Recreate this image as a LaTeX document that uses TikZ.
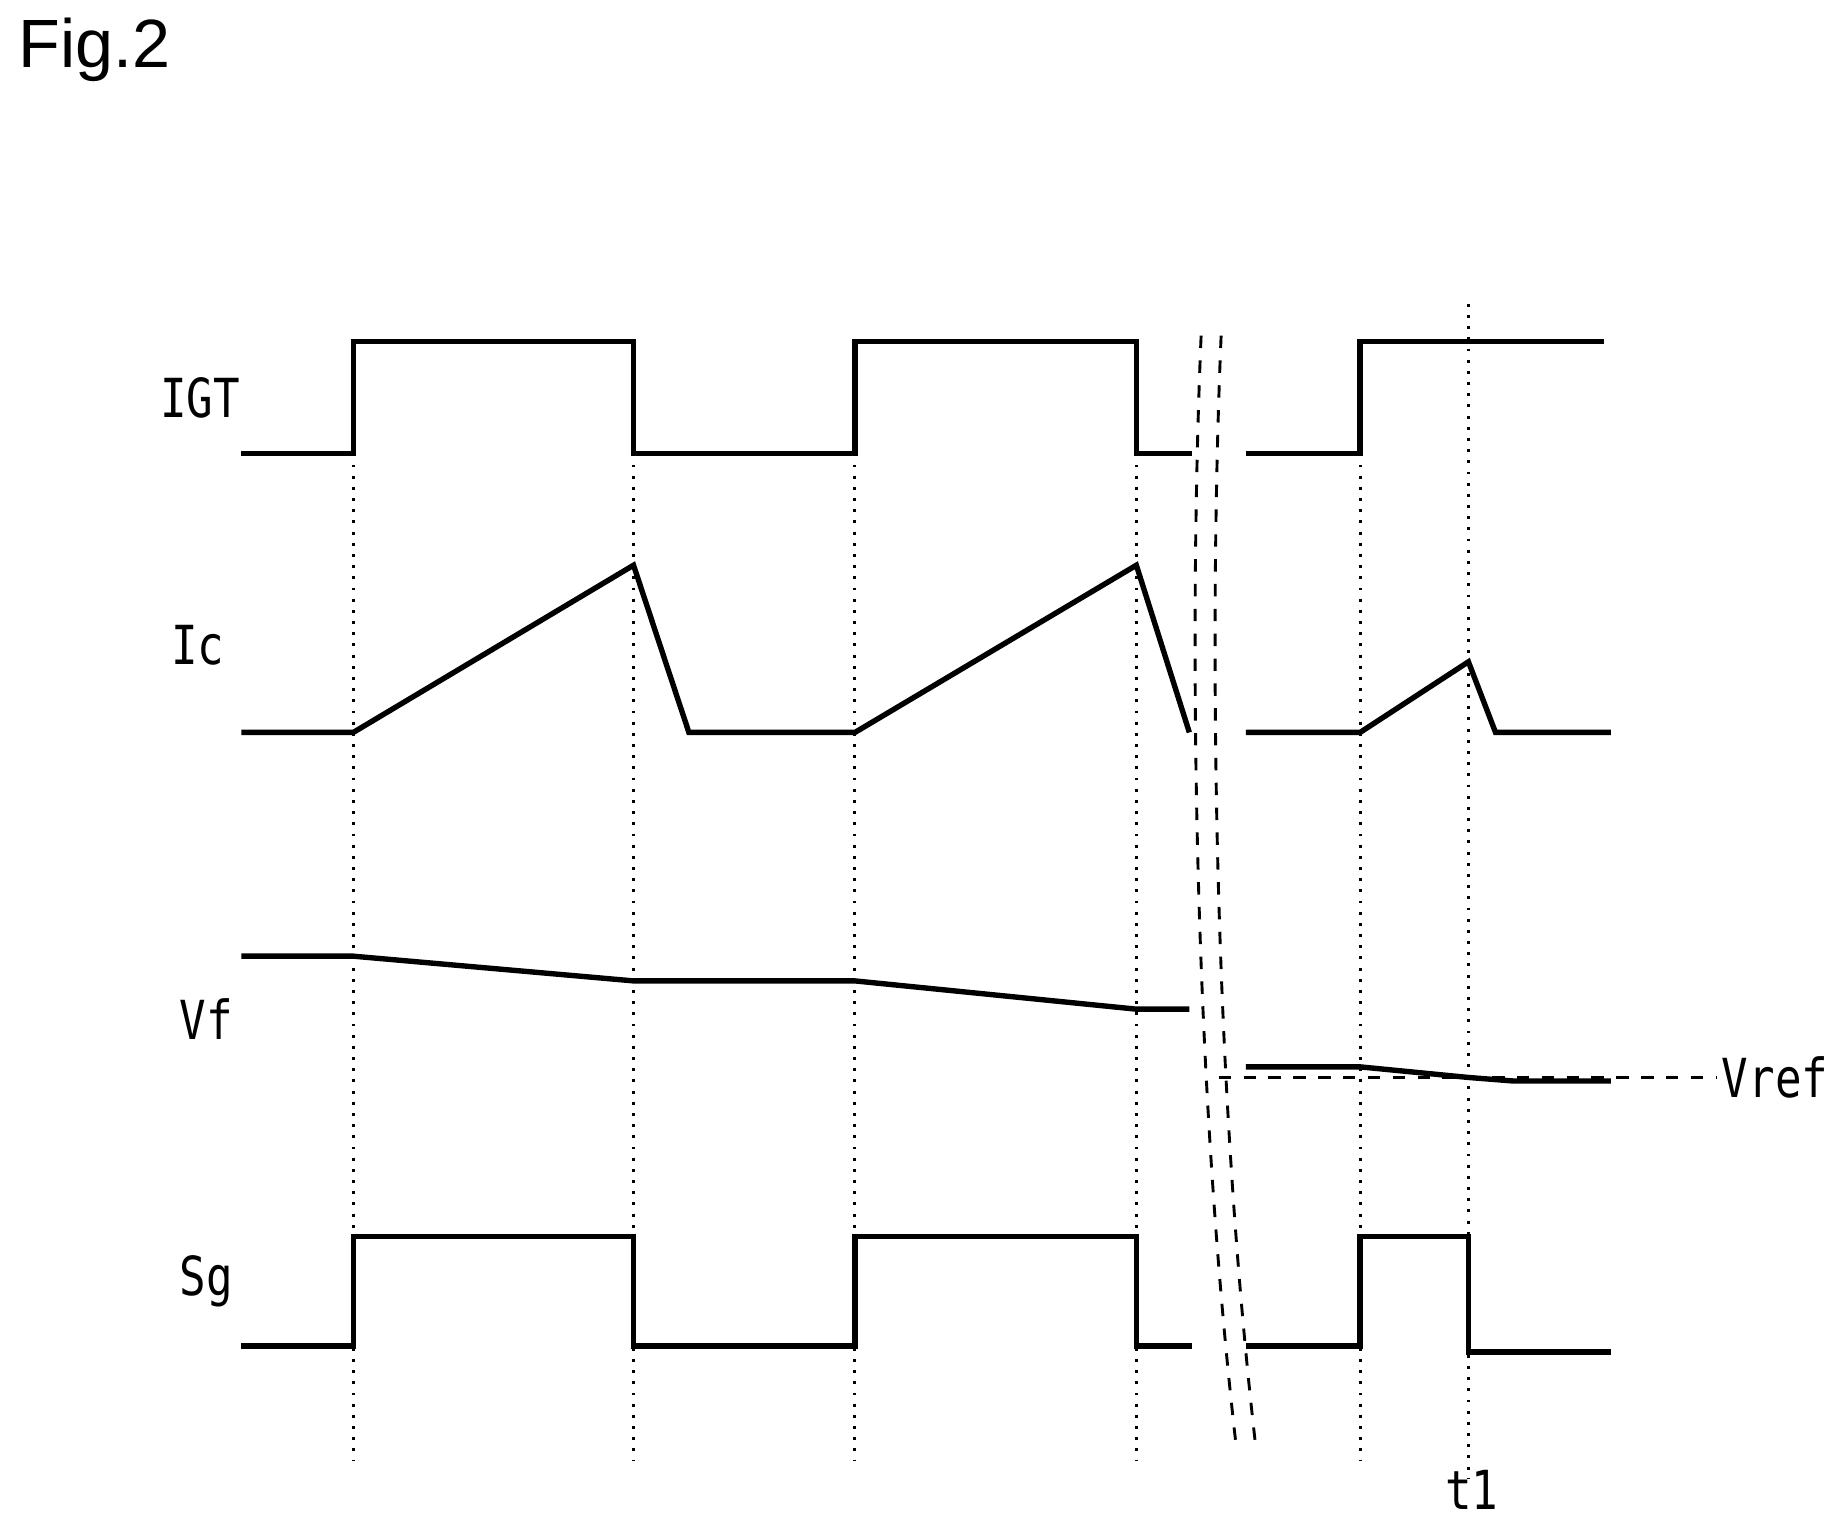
\documentclass[tikz,border=0pt]{standalone}
\usepackage{fontspec}
\setmainfont{Liberation Sans}
\newfontfamily\labelfont[FakeStretch=0.82]{DejaVu Sans Mono}
\begin{document}
\begin{tikzpicture}[x=0.01cm, y=-0.01cm]

\tikzstyle{sig_style} = [black, line width=1.3pt, line join=miter]
\tikzstyle{guide_style} = [black, line width=0.7pt, dotted]
\tikzstyle{break_style} = [black, line width=0.7pt, dashed]
\tikzstyle{label_style} = [font=\labelfont\fontsize{13}{13}\selectfont, inner sep=1pt]

\useasboundingbox (0,0) rectangle (1560,1292);

\node[font=\fontsize{16.5}{16.5}\selectfont] (fig) at (80,42) {Fig.2};

% guide lines
\foreach \x in {300, 538, 726, 965, 1155}
  \draw[guide_style] (\x,385) -- (\x,1240);
\draw[guide_style] (1247,258) -- (1247,1255);

% IGT
\node[label_style] (igt) at (170,338) {IGT};
\draw[sig_style] (205,385) -- (300,385) -- (300,290) -- (538,290) -- (538,385) -- (726,385)
  -- (726,290) -- (965,290) -- (965,385) -- (1012,385);
\draw[sig_style] (1058,385) -- (1155,385) -- (1155,290) -- (1362,290);

% Ic
\node[label_style] (ic) at (168,548) {Ic};
\draw[sig_style] (205,622) -- (300,622) -- (538,480) -- (585,622) -- (726,622) -- (965,480) -- (1010,622);
\draw[sig_style] (1058,622) -- (1155,622) -- (1247,562) -- (1270,622) -- (1368,622);

% Vf
\node[label_style] (vf) at (175,865) {Vf};
\draw[sig_style] (205,812) -- (300,812) -- (538,833) -- (726,833) -- (965,857) -- (1010,857);
\draw[sig_style] (1058,906) -- (1155,906) -- (1247,915) -- (1285,918) -- (1368,918);
\node[label_style, anchor=west] (vref) at (1458,915) {Vref};
\coordinate (vref0) at (1035,915);
\draw[break_style] (vref0) -- (vref.west);

% Sg
\node[label_style] (sg) at (175,1088) {Sg};
\draw[sig_style] (205,1143) -- (300,1143) -- (300,1050) -- (538,1050) -- (538,1143) -- (726,1143)
  -- (726,1050) -- (965,1050) -- (965,1143) -- (1012,1143);
\draw[sig_style] (1058,1143) -- (1155,1143) -- (1155,1050) -- (1247,1050) -- (1247,1148) -- (1368,1148);

\node[label_style] (t1) at (1250,1265) {t1};

% break marks
\draw[break_style] (1020,285) .. controls (1010,520) and (1012,900) .. (1050,1230);
\draw[break_style] (1037,285) .. controls (1027,520) and (1029,900) .. (1066,1225);

\end{tikzpicture}
\end{document}
